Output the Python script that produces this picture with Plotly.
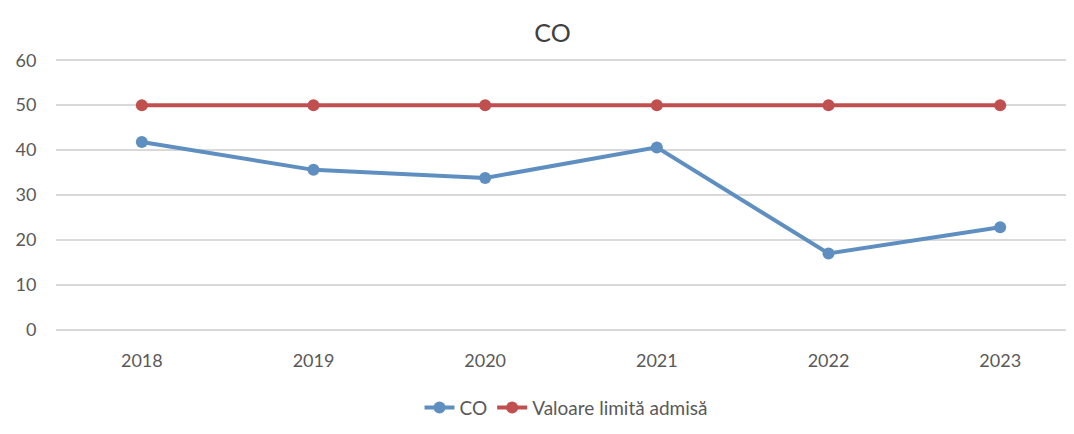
import plotly.graph_objects as go

years = ["2018", "2019", "2020", "2021", "2022", "2023"]
co_values = [41.8, 35.6, 33.8, 40.6, 17.0, 22.8]
limit_values = [50, 50, 50, 50, 50, 50]
y_ticks = [0, 10, 20, 30, 40, 50, 60]

blue = "#5f8fc0"
red = "#c0504f"
font_family = "Lato, 'Open Sans', sans-serif"

fig = go.Figure()
fig.add_trace(go.Scatter(
    x=years, y=co_values, name="CO", mode="lines+markers",
    line=dict(color=blue, width=4), marker=dict(color=blue, size=12),
))
fig.add_trace(go.Scatter(
    x=years, y=limit_values, name="Valoare limită admisă", mode="lines+markers",
    line=dict(color=red, width=4), marker=dict(color=red, size=12),
))

fig.update_layout(
    width=1074, height=434,
    paper_bgcolor="white", plot_bgcolor="white",
    margin=dict(l=46, r=8, t=50, b=110),
    title=dict(text="CO", x=0.507, xanchor="center", y=0.942, yanchor="middle",
               font=dict(family=font_family, size=25, color="#404040")),
    font=dict(family=font_family, color="#595959"),
    showlegend=True,
    legend=dict(orientation="h", x=0.501, xanchor="center", y=-0.276, yanchor="middle",
                font=dict(size=19, color="#595959")),
)
fig.update_xaxes(
    type="category", range=[-0.5, 5.43], showgrid=False, zeroline=False,
    showline=False, ticks="outside", ticklen=12, tickcolor="rgba(0,0,0,0)",
    tickfont=dict(size=18, color="#595959"),
)
fig.update_yaxes(
    range=[-0.5, 60.5], tickvals=y_ticks, showgrid=True, gridcolor="#d9d9d9",
    gridwidth=1.5, zeroline=False, showline=False, ticks="outside", ticklen=15,
    tickcolor="rgba(0,0,0,0)", tickfont=dict(size=18, color="#595959"),
)

fig.write_html("out.html")
